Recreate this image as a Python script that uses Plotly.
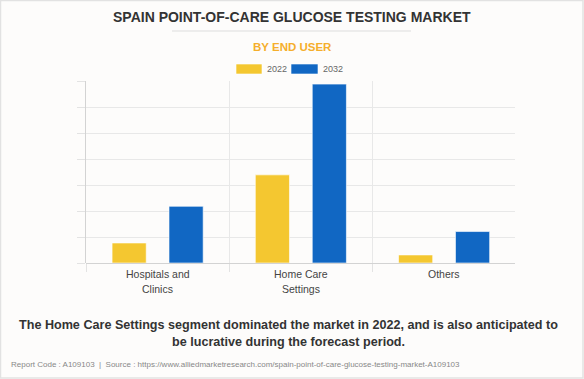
import plotly.graph_objects as go

categories = ["Hospitals and Clinics", "Home Care Settings", "Others"]
label_lines = [["Hospitals and", "Clinics"], ["Home Care", "Settings"], ["Others"]]
values_2022 = [0.77, 3.39, 0.31]
values_2032 = [2.18, 6.88, 1.21]
series_names = ["2022", "2032"]

W, H = 584, 379
L, R, T, B = 86, 515, 81, 263

def px(x):
    return (x - L) / (R - L)

def py(y):
    return (B - y) / (B - T)

FONT = "Liberation Sans, Arial, sans-serif"
YELLOW = "#F4C730"
BLUE = "#1167C3"
BG = "#FDFCFB"

fig = go.Figure()
fig.add_bar(x=categories, y=values_2022, name=series_names[0], marker_color=YELLOW,
            marker_line=dict(color="rgba(255,255,255,0.6)", width=1), showlegend=False)
fig.add_bar(x=categories, y=values_2032, name=series_names[1], marker_color=BLUE,
            marker_line=dict(color="rgba(255,255,255,0.6)", width=1), showlegend=False)

fig.update_layout(
    width=W, height=H,
    margin=dict(l=L, r=W - R, t=T, b=H - B),
    paper_bgcolor=BG, plot_bgcolor=BG,
    barmode="group", bargap=0.205, bargroupgap=0.40,
    font=dict(family=FONT, color="#444"),
)
fig.update_yaxes(range=[0, 7], dtick=1, showticklabels=False, ticks="outside", ticklen=8,
                 tickcolor="#e3e3e3", gridcolor="#e8e8e8", gridwidth=1,
                 showline=True, linecolor="#d3d3d3", linewidth=1,
                 zeroline=True, zerolinecolor="#d3d3d3", zerolinewidth=1, fixedrange=True)
fig.update_xaxes(type="category", range=[-0.5, 2.495], tickson="boundaries", ticks="outside", ticklen=8,
                 tickcolor="#e3e3e3", showticklabels=False,
                 showgrid=True, gridcolor="#e8e8e8", gridwidth=1, fixedrange=True)

shapes = []
# outer border
shapes.append(dict(type="rect", xref="paper", yref="paper", x0=px(0.5), x1=px(W - 1), y0=py(H - 1), y1=py(0.5),
                   line=dict(color="#e2e2e2", width=1.5), fillcolor="rgba(0,0,0,0)", layer="below"))
# title separator
shapes.append(dict(type="line", xref="paper", yref="paper", x0=px(172), x1=px(411), y0=py(31), y1=py(31),
                   line=dict(color="#dddddd", width=1)))
# legend swatches
for (x0, x1, col) in [(236, 262, YELLOW), (291, 318, BLUE)]:
    shapes.append(dict(type="rect", xref="paper", yref="paper", x0=px(x0), x1=px(x1), y0=py(74), y1=py(64),
                       line=dict(color="rgba(255,255,255,0.6)", width=1), fillcolor=col))
fig.update_layout(shapes=shapes)

ann = []
ann.append(dict(text="<b>SPAIN POINT-OF-CARE GLUCOSE TESTING MARKET</b>", x=px(292), y=py(17),
                font=dict(size=14, color="#333333", family=FONT)))
ann.append(dict(text="<b>BY END USER</b>", x=px(292), y=py(47),
                font=dict(size=11.5, color="#F5AE2C", family=FONT)))
ann.append(dict(text=series_names[0], x=px(265), y=py(69), xanchor="left",
                font=dict(size=9, color="#666666", family=FONT)))
ann.append(dict(text=series_names[1], x=px(321), y=py(69), xanchor="left",
                font=dict(size=9, color="#666666", family=FONT)))
ann.append(dict(text="<b>The Home Care Settings segment dominated the market in 2022, and is also anticipated to</b>",
                x=px(288), y=py(325), font=dict(size=12.6, color="#333333", family=FONT)))
ann.append(dict(text="<b>be lucrative during the forecast period.</b>",
                x=px(288), y=py(342), font=dict(size=12.6, color="#333333", family=FONT)))
ann.append(dict(text="Report Code : A109103  |  Source : https://www.alliedmarketresearch.com/spain-point-of-care-glucose-testing-market-A109103",
                x=px(9), y=py(364), xanchor="left", font=dict(size=8, color="#888888", family=FONT)))
for a in ann:
    a.setdefault("xanchor", "center")
    a.update(xref="paper", yref="paper", yanchor="middle", showarrow=False)

# category labels, line by line
for cat, lines in zip(categories, label_lines):
    for i, line in enumerate(lines):
        ann.append(dict(text=line, x=cat, xref="x", y=py(274 + 15 * i), yref="paper",
                        xanchor="center", yanchor="middle", showarrow=False,
                        font=dict(size=10.5, color="#444444", family=FONT)))
fig.update_layout(annotations=ann)

fig.write_html("out.html", post_script="document.body.style.margin='0';",
               config={"displayModeBar": False})
